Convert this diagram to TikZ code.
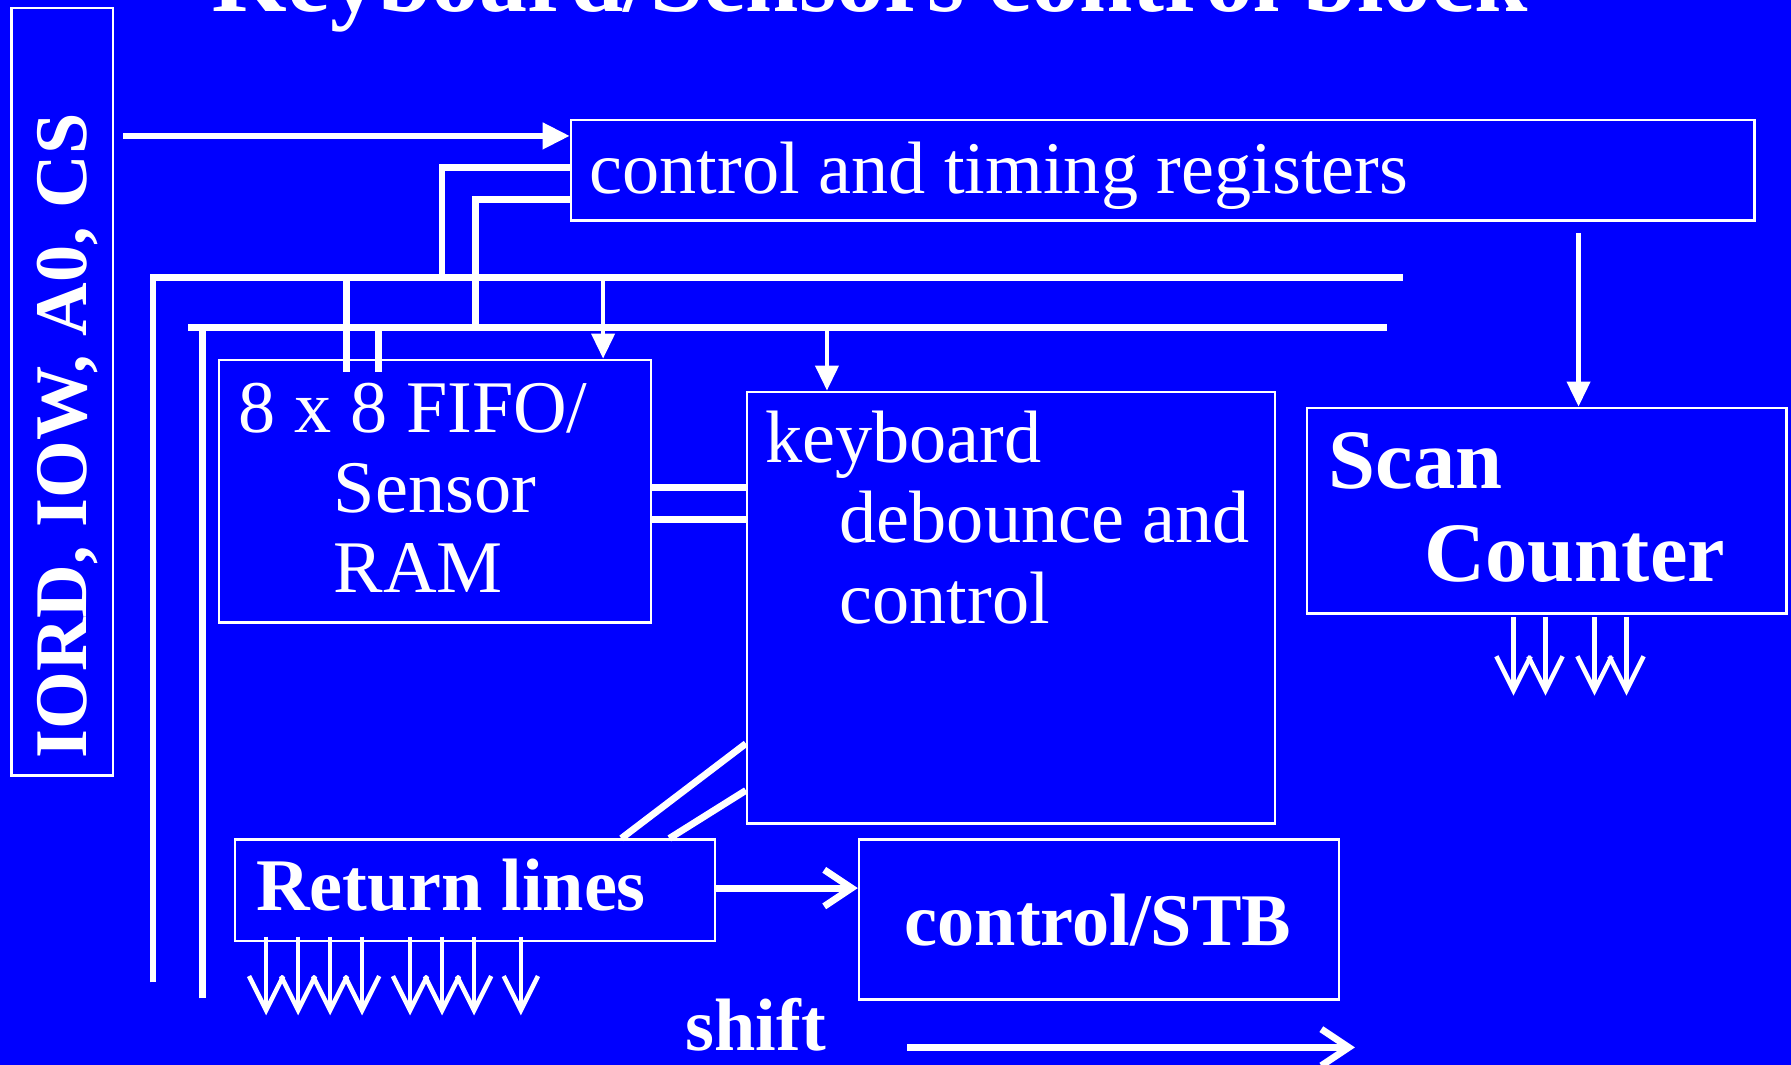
\documentclass[tikz,border=0pt]{standalone}
\usepackage{fontspec}
\setmainfont{Liberation Serif}
\usepackage{tikz}
\usetikzlibrary{arrows.meta, positioning, calc}
\definecolor{slidebg}{RGB}{0, 0, 255}
\definecolor{ink}{RGB}{255, 255, 255}
\tikzset{
    block/.style={rectangle, draw=ink, line width=2pt, inner sep=0pt},
    txt/.style={text=ink, inner sep=0pt, anchor=base west, font=\fontsize{65}{78}\selectfont},
    btxt/.style={txt, font=\fontsize{65}{78}\selectfont\bfseries},
    bigtxt/.style={txt, font=\fontsize{74}{88}\selectfont\bfseries},
    bus/.style={draw=ink, line width=6pt},
    feed/.style={draw=ink, line width=4pt, -{Triangle[length=22pt, width=20pt]}},
    bigfeed/.style={bus, -{Triangle[length=24pt, width=22pt]}},
    barb/.style={bus, -{Straight Barb[length=24pt, width=32pt]}},
    outarrow/.style={draw=ink, line width=4pt, -{Straight Barb[length=30pt, width=30pt]}}
}

\begin{document}
\begin{tikzpicture}[x=1pt, y=-1pt]

    \fill [slidebg] (0,0) rectangle (1568,932);
    \useasboundingbox (0,0) rectangle (1568,932);

    \node (title) [text=ink, inner sep=0pt, anchor=base, font=\fontsize{84}{96}\selectfont\bfseries] at (762,10) {Keyboard/Sensors control block};

    % boxes
    \node (sigbox) [block, minimum width=89pt, minimum height=672pt] at (54.5,343) {};
    \node (ctrl)   [block, minimum width=1036pt, minimum height=88pt] at (1018,149) {};
    \node (fifo)   [block, minimum width=378pt, minimum height=230pt] at (381,430) {};
    \node (kbd)    [block, minimum width=462pt, minimum height=378pt] at (885,532) {};
    \node (scan)   [block, minimum width=420pt, minimum height=180pt] at (1354,447) {};
    \node (ret)    [block, minimum width=420pt, minimum height=89pt] at (416,779.5) {};
    \node (stb)    [block, minimum width=420pt, minimum height=140pt] at (962,805) {};

    % texts
    \node (sigtxt) [btxt, anchor=base, rotate=90] at ([shift={(21.5,38.5)}]sigbox.center) {IORD, IOW, A0, CS};
    \node (ctrltxt) [txt] at ([shift={(17,65)}]ctrl.north west) {control and timing registers};
    \node (fifoA) [txt] at ([shift={(18,65)}]fifo.north west) {8 x 8 FIFO/};
    \node (fifoB) [txt] at ([shift={(101,135)}]fifo.north west) {Sensor};
    \node (fifoC) [txt] at ([shift={(101,205)}]fifo.north west) {RAM};
    \node (kbdA) [txt] at ([shift={(17,63)}]kbd.north west) {keyboard};
    \node (kbdB) [txt] at ([shift={(82,133)}]kbd.north west) {debounce and};
    \node (kbdC) [txt] at ([shift={(82,204)}]kbd.north west) {control};
    \node (scanA) [bigtxt] at ([shift={(20,72)}]scan.north west) {Scan};
    \node (scanB) [bigtxt] at ([shift={(104,153)}]scan.north west) {Counter};
    \node (rettxt) [btxt] at ([shift={(19,63)}]ret.north west) {Return lines};
    \node (stbtxt) [btxt] at ([shift={(41,94)}]stb.north west) {control/STB};
    \node (shiftlbl) [btxt] at (600,920) {shift};

    % buses
    \coordinate (sigout) at (108,119);
    \coordinate (busA) at (134,243);
    \coordinate (busB) at (177,287);

    \draw [bigfeed] (sigout) -- (sigout -| ctrl.west);
    \draw [bus] ([yshift=-617pt]busA) -- (busA) -- ([xshift=1094pt]busA);
    \draw [bus] ([yshift=-587pt]busB) -- (busB);
    \draw [bus] ([xshift=-12pt]busB) -- ([xshift=1037pt]busB);
    \draw [bus] ([yshift=2pt]ctrl.west) -| (busA -| 387,0);
    \draw [bus] ([yshift=-26pt]ctrl.west) -| (busB -| 416,0);

    \foreach \x/\b in {303/busA, 331/busB}
        \draw [bus] (\b -| \x,0) -- (fifo.north -| \x,0) -- ++(0,12);

    \draw [feed] (busA -| 528,0) -- (fifo.north -| 528,0);
    \draw [feed] (busB -| 724,0) -- (kbd.north -| 724,0);
    \draw [feed] ([yshift=-10pt]ctrl.south -| 1382,0) -- (scan.north -| 1382,0);

    \foreach \dy in {3,-25}
        \draw [bus] ([yshift=\dy pt]fifo.east) -- ([yshift=\dy pt]fifo.east -| kbd.west);

    \draw [bus] ([yshift=71pt]kbd.south west) -- ([xshift=-83pt]ret.north east);
    \draw [bus] ([yshift=30pt]kbd.south west) -- ([xshift=-41pt]ret.north east);

    \draw [barb] ([yshift=2pt]ret.east) -- ([yshift=2pt]ret.east -| stb.west);
    \draw [barb] ([xshift=71pt,yshift=3pt]shiftlbl.base east) -- ++(392,0);

    \foreach \dx in {28,56,84,112,154,182,210,251}
        \draw [outarrow] ([xshift=\dx pt,yshift=5pt]ret.south west) -- ++(0,69);
    \foreach \dx in {182,210,253,281}
        \draw [outarrow] ([yshift=-2pt,xshift=\dx pt]scan.south west) -- ++(0,69);

\end{tikzpicture}
\end{document}
